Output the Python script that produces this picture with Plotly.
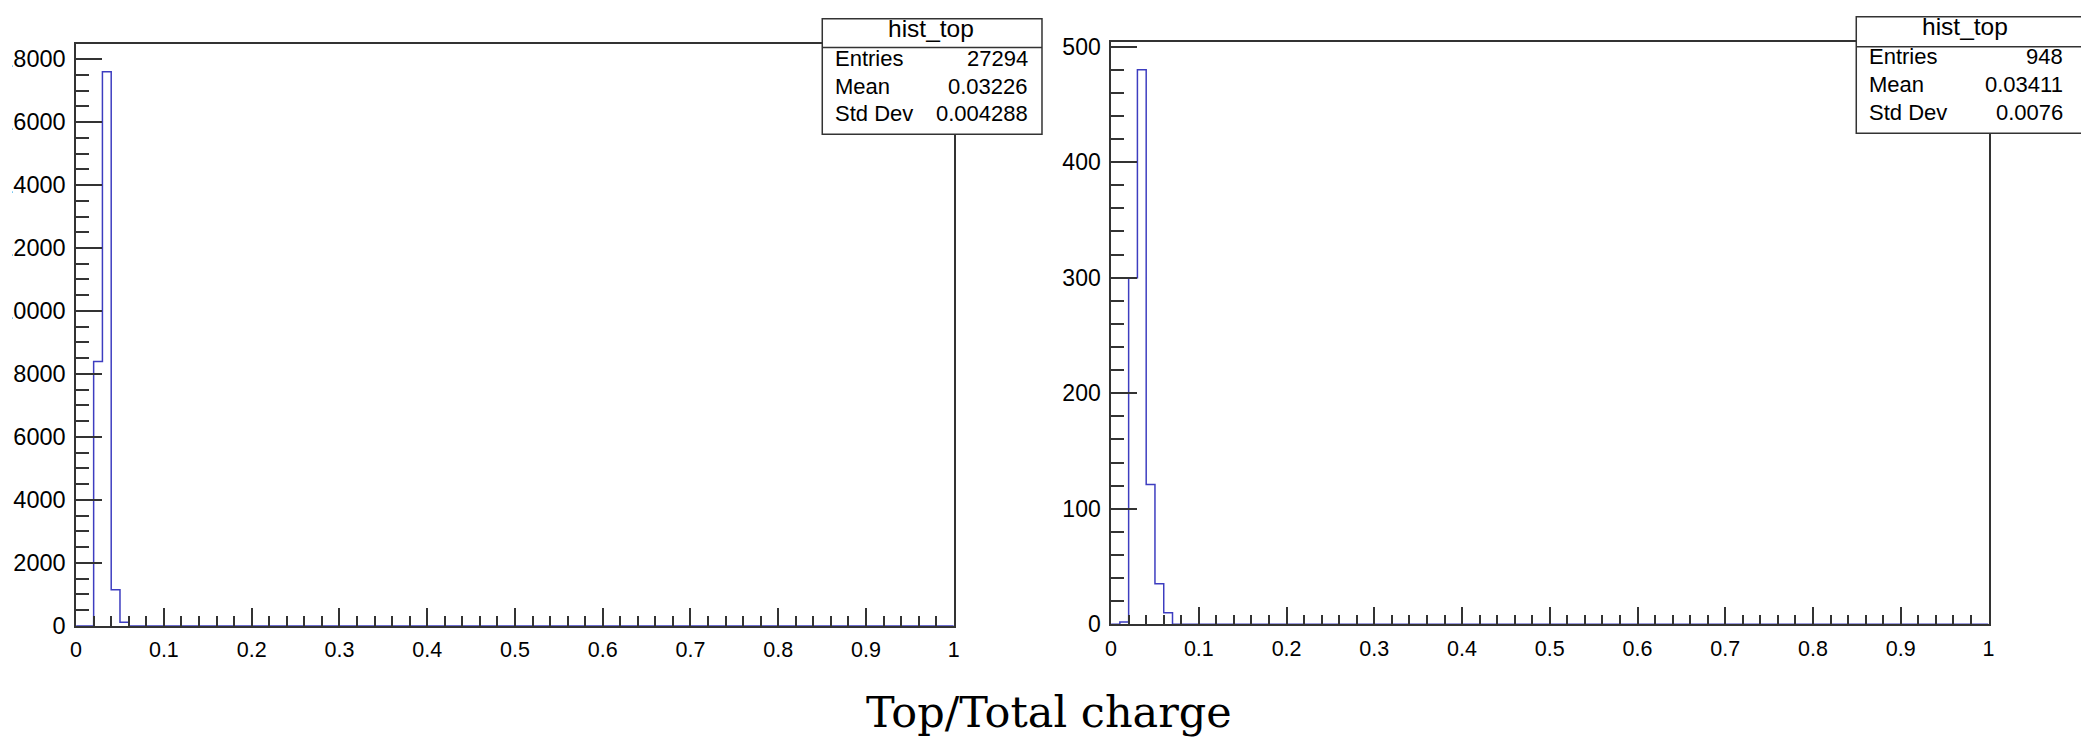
import plotly.graph_objects as go

# ---- histogram contents (100 bins of width 0.01 on [0, 1]) ----
bin_width = 0.01
n_bins = 100
counts_left = [0, 0, 8400, 17600, 1150, 120] + [0] * 94
counts_right = [0, 2, 300, 480, 121, 35, 10] + [0] * 93

# ---- statistics boxes ----
stats_title = "hist_top"
stats_labels = ["Entries", "Mean", "Std Dev"]
stats_left = ["27294", "0.03226", "0.004288"]
stats_right = ["948", "0.03411", "0.0076"]

x_title = "Top/Total charge"

# ---- page geometry ----
W, H = 2081, 738
LEFT_CROP = 12                  # the canvas is cut a few pixels into the left label column

def px(x):
    return x / W

def py(y):
    return 1 - y / H

LINE = "#3d3dc0"
AX = "#333333"
FONT = "Liberation Sans, Arial, sans-serif"
XFONT = dict(family=FONT, size=21.5, color="black")


def step_xy(counts):
    edges = [i * bin_width for i in range(n_bins + 1)]
    return edges, list(counts) + [counts[-1]]


fig = go.Figure()
for idx, counts in enumerate([counts_left, counts_right]):
    ex, ey = step_xy(counts)
    fig.add_trace(go.Scatter(
        x=ex, y=ey, mode="lines", line=dict(color=LINE, width=1.5, shape="hv"),
        xaxis="x" if idx == 0 else "x2", yaxis="y" if idx == 0 else "y2",
        showlegend=False, hoverinfo="skip"))

xcommon = dict(range=[0, 1], dtick=0.1, tick0=0, ticks="inside", ticklen=18, tickwidth=1.5,
               tickcolor=AX, showline=True, linecolor=AX, linewidth=1.5, mirror=True,
               showgrid=False, zeroline=False, tickfont=XFONT, fixedrange=True,
               ticklabelstandoff=4,
               minor=dict(dtick=0.02, ticks="inside", ticklen=10, tickwidth=1.5, tickcolor=AX))
ycommon = dict(ticks="inside", ticklen=26, tickwidth=1.5, tickcolor=AX, showline=True,
               linecolor=AX, linewidth=1.5, mirror=True, showgrid=False, zeroline=False,
               fixedrange=True, tickformat="d", ticklabelstandoff=4)

fig.update_layout(
    width=W, height=H, margin=dict(l=0, r=0, t=0, b=0),
    paper_bgcolor="white", plot_bgcolor="white",
    xaxis=dict(domain=[px(70.5), px(953.3)], anchor="y", **xcommon),
    yaxis=dict(domain=[py(636), py(37)], anchor="x", range=[0, 18480], dtick=2000,
               tickfont=dict(family=FONT, size=23.5, color="black"),
               minor=dict(dtick=500, ticks="inside", ticklen=13, tickwidth=1.5, tickcolor=AX),
               **ycommon),
    xaxis2=dict(domain=[px(1111.5), px(1994)], anchor="y2", **xcommon),
    yaxis2=dict(domain=[py(634.3), py(35)], anchor="x2", range=[0, 504], dtick=100,
                tickfont=dict(family=FONT, size=23, color="black"),
                minor=dict(dtick=20, ticks="inside", ticklen=13, tickwidth=1.5, tickcolor=AX),
                **ycommon),
)

shapes = []
annotations = []
boxes = [
    (821, 1042, 11, 130, 40.7, stats_left, 831.7, 1030, 930.7, [52, 80.5, 109]),
    (1861, 2140, 9, 129, 40, stats_right, 1871.7, 2071, 1970.7, [50.3, 79, 108]),
]
for x0, x1, y0, y1, ysep, values, xl, xr, xc, rows in boxes:
    shapes.append(dict(type="rect", xref="paper", yref="paper", x0=px(x0), x1=px(x1),
                       y0=py(y1), y1=py(y0), fillcolor="white",
                       line=dict(color="#333333", width=1.5), layer="above"))
    shapes.append(dict(type="line", xref="paper", yref="paper", x0=px(x0), x1=px(x1),
                       y0=py(ysep), y1=py(ysep), line=dict(color="#333333", width=1.5),
                       layer="above"))
    annotations.append(dict(text=stats_title, xref="paper", yref="paper", x=px(xc),
                            y=py((y0 + ysep) / 2 - 5), xanchor="center", yanchor="middle",
                            showarrow=False,
                            font=dict(family=FONT, size=24.5, color="black")))
    for lab, val, ry in zip(stats_labels, values, rows):
        annotations.append(dict(text=lab, xref="paper", yref="paper", x=px(xl), y=py(ry),
                                xanchor="left", yanchor="middle", showarrow=False,
                                font=dict(family=FONT, size=22, color="black")))
        annotations.append(dict(text=val, xref="paper", yref="paper", x=px(xr), y=py(ry),
                                xanchor="right", yanchor="middle", showarrow=False,
                                font=dict(family=FONT, size=22, color="black")))

annotations.append(dict(text=x_title, xref="paper", yref="paper", x=px(1049), y=py(725),
                        xanchor="center", yanchor="middle", showarrow=False,
                        font=dict(family="DejaVu Serif, serif", size=43, color="black")))

fig.update_layout(shapes=shapes, annotations=annotations)

post = (
    "var gd=document.getElementById('{plot_id}');"
    "gd.style.clipPath='inset(0px 0px 0px %dpx)';"
    "document.body.style.margin='0';"
    "document.body.style.overflow='hidden';" % LEFT_CROP
)
fig.write_html("out.html", post_script=post, config={"displayModeBar": False})
